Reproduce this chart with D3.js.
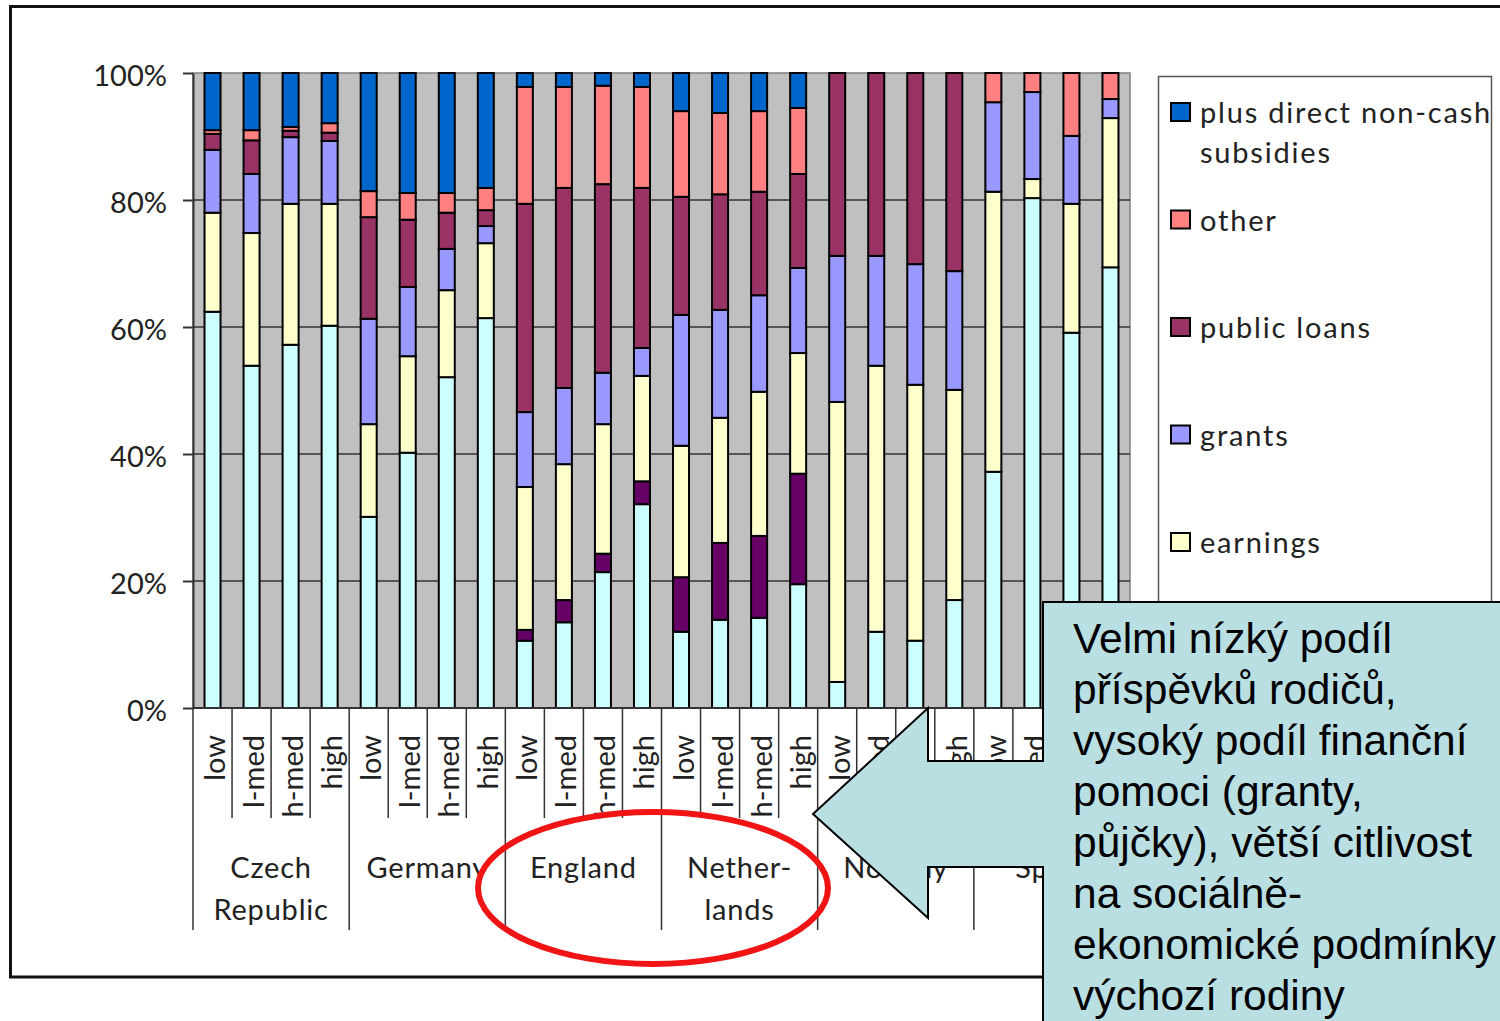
<html>
<style>
  body { margin: 0; background: #ffffff; }
  svg { display: block; }
</style>
<script src="https://d3js.org/d3.v7.min.js"></script>
<body>
<svg id="chart"></svg>
</body>
<script>
// categories
let countries = [["Czech", "Republic"], ["Germany"], ["England"], ["Nether-", "lands"], ["Norway"], ["Spain"]]
let levels = ["low", "l-med", "h-med", "high"]
let yTicks = [0, 20, 40, 60, 80, 100]

// series, bottom of the stack first (shares in %)
let seriesNames = ["parents", "private loans", "earnings", "grants", "public loans", "other", "plus direct non-cash subsidies"]
let seriesColors = ["#CCFFFF", "#660066", "#FFFFCC", "#9999FF", "#993366", "#FF8080", "#0066CC"]
// legend entries still visible above the callout box (top down)
let legendSeries = [6, 5, 4, 3, 2]

let parents      = [62.4, 53.9, 57.2, 60.2, 30.1, 40.2, 52.1, 61.4, 10.6, 13.5, 21.4, 32.1, 12.0, 13.9, 14.2, 19.5, 4.1, 12.0, 10.6, 17.0, 37.2, 80.3, 59.1, 69.4]
let privateLoans = [0, 0, 0, 0, 0, 0, 0, 0, 1.7, 3.5, 2.9, 3.6, 8.6, 12.1, 12.9, 17.4, 0, 0, 0, 0, 0, 0, 0, 0]
let earnings     = [15.6, 20.9, 22.2, 19.2, 14.6, 15.2, 13.7, 11.8, 22.5, 21.4, 20.4, 16.6, 20.7, 19.7, 22.7, 19.0, 44.1, 41.9, 40.3, 33.1, 44.1, 3.0, 20.3, 23.5]
let grants       = [9.9, 9.3, 10.5, 9.9, 16.6, 10.9, 6.5, 2.7, 11.8, 12.0, 8.1, 4.4, 20.6, 17.0, 15.2, 13.4, 23.0, 17.3, 19.0, 18.7, 14.1, 13.7, 10.7, 3.0]
let publicLoans  = [2.5, 5.3, 1.0, 1.3, 16.0, 10.6, 5.7, 2.5, 32.8, 31.5, 29.7, 25.2, 18.6, 18.2, 16.3, 14.8, 28.8, 28.8, 30.1, 31.2, 0, 0, 0, 0]
let other        = [0.6, 1.6, 0.6, 1.5, 4.1, 4.2, 3.1, 3.5, 18.4, 15.9, 15.5, 15.9, 13.5, 12.8, 12.7, 10.4, 0, 0, 0, 0, 4.6, 3.0, 9.9, 4.1]
let nonCash      = [9.0, 9.0, 8.5, 7.9, 18.6, 18.9, 18.9, 18.1, 2.2, 2.2, 2.0, 2.2, 6.0, 6.3, 6.0, 5.5, 0, 0, 0, 0, 0, 0, 0, 0]

let calloutLines = ["Velmi nízký podíl", "příspěvků rodičů,", "vysoký podíl finanční", "pomoci (granty,", "půjčky), větší citlivost", "na sociálně-", "ekonomické podmínky", "výchozí rodiny"]

let width = 1500, height = 1021
let plot = {left: 193, right: 1130, top: 73, bottom: 708}
let labelFont = "Lato, 'Open Sans', sans-serif"

function buildRows() {
  let all = [parents, privateLoans, earnings, grants, publicLoans, other, nonCash]
  let rows = []
  for (let i = 0; i < parents.length; i++) {
    let row = {index: i, level: levels[i % 4], country: Math.floor(i / 4)}
    seriesNames.forEach((name, k) => row[name] = all[k][i])
    rows.push(row)
  }
  return rows
}

function drawChart() {
  let svg = d3.select("#chart").attr("width", width).attr("height", height)
  let rows = buildRows()

  // outer frame
  svg.append("rect")
    .attr("x", 10.5).attr("y", 6.5)
    .attr("width", 1600).attr("height", 970.5)
    .attr("fill", "#ffffff").attr("stroke", "#111").attr("stroke-width", 3)

  let x = d3.scaleBand()
    .domain(d3.range(rows.length))
    .range([plot.left, plot.right])
    .paddingInner(0.59)
    .paddingOuter(0.295)
  let step = x.step()
  let y = d3.scaleLinear().domain([0, 100]).range([plot.bottom, plot.top])

  // plot area
  svg.append("rect")
    .attr("x", plot.left).attr("y", plot.top)
    .attr("width", plot.right - plot.left).attr("height", plot.bottom - plot.top)
    .attr("fill", "#C0C0C0").attr("stroke", "#808080").attr("stroke-width", 1.5)

  svg.append("g").selectAll("line")
    .data(yTicks.filter(t => t > 0 && t < 100))
    .enter().append("line")
    .attr("x1", plot.left).attr("x2", plot.right)
    .attr("y1", d => y(d)).attr("y2", d => y(d))
    .attr("stroke", "#333").attr("stroke-width", 1.5)

  // stacked bars
  let stack = d3.stack().keys(seriesNames)(rows)
  svg.append("g").selectAll("g")
    .data(stack).enter().append("g")
    .attr("fill", (d, k) => seriesColors[k])
    .selectAll("rect")
    .data(d => d.filter(s => s[1] - s[0] > 0))
    .enter().append("rect")
    .attr("x", d => x(d.data.index))
    .attr("width", x.bandwidth())
    .attr("y", d => y(d[1]))
    .attr("height", d => y(d[0]) - y(d[1]))
    .attr("stroke", "#000").attr("stroke-width", 2)

  // y axis
  let yAxis = svg.append("g")
    .attr("transform", `translate(${plot.left},0)`)
    .call(d3.axisLeft(y).tickValues(yTicks).tickFormat(d => d + "%").tickSize(10).tickSizeOuter(0).tickPadding(16))
  yAxis.select(".domain").attr("stroke", "#333").attr("stroke-width", 2)
  yAxis.selectAll(".tick line").attr("stroke", "#333").attr("stroke-width", 2)
  yAxis.selectAll("text")
    .attr("font-family", labelFont).attr("font-size", 29).attr("fill", "#222")
    .attr("dy", "0.42em")

  // x axis line
  svg.append("line")
    .attr("x1", plot.left).attr("x2", plot.right)
    .attr("y1", plot.bottom).attr("y2", plot.bottom)
    .attr("stroke", "#333").attr("stroke-width", 2)

  // category separators
  svg.append("g").selectAll("line")
    .data(d3.range(rows.length + 1))
    .enter().append("line")
    .attr("x1", i => plot.left + i * step).attr("x2", i => plot.left + i * step)
    .attr("y1", plot.bottom)
    .attr("y2", i => i % 4 == 0 ? 930 : 818)
    .attr("stroke", "#333").attr("stroke-width", 1.5)

  // level labels
  svg.append("g").selectAll("text")
    .data(rows).enter().append("text")
    .attr("transform", d => `translate(${x(d.index) + x.bandwidth() / 2 + 12.5},735) rotate(-90)`)
    .attr("text-anchor", "end")
    .attr("font-family", labelFont).attr("font-size", 29).attr("fill", "#222")
    .text(d => d.level)

  // country labels
  let cg = svg.append("g").selectAll("text")
    .data(countries).enter().append("text")
    .attr("x", (d, i) => plot.left + (i * 4 + 2) * step)
    .attr("text-anchor", "middle")
    .attr("font-family", labelFont).attr("font-size", 29).attr("fill", "#222")
    .attr("letter-spacing", 0.8)
  cg.selectAll("tspan")
    .data(d => d).enter().append("tspan")
    .attr("x", function () { return d3.select(this.parentNode).attr("x") })
    .attr("y", (d, j) => 878 + j * 42)
    .text(d => d)

  drawLegend(svg)

  // red ellipse
  svg.append("ellipse")
    .attr("cx", 653).attr("cy", 888).attr("rx", 175).attr("ry", 76)
    .attr("fill", "none").attr("stroke", "#f01414").attr("stroke-width", 6)

  drawCallout(svg)
}

function drawLegend(svg) {
  svg.append("rect")
    .attr("x", 1158.5).attr("y", 76.5).attr("width", 333).attr("height", 1000)
    .attr("fill", "#ffffff").attr("stroke", "#555").attr("stroke-width", 1.5)
  let items = svg.append("g").selectAll("g")
    .data(legendSeries).enter().append("g")
    .attr("transform", (k, i) => `translate(1171,${112 + i * 107.5})`)
  items.append("rect")
    .attr("x", 0).attr("y", -9).attr("width", 19).attr("height", 18)
    .attr("fill", k => seriesColors[k]).attr("stroke", "#000").attr("stroke-width", 2)
  let t = items.append("text")
    .attr("font-family", labelFont).attr("font-size", 29).attr("fill", "#222")
    .attr("letter-spacing", 1.8)
  t.selectAll("tspan")
    .data(k => k == 6 ? ["plus direct non-cash", "subsidies"] : [seriesNames[k]])
    .enter().append("tspan")
    .attr("x", 29).attr("y", (d, j) => 11 + j * 40)
    .text(d => d)
}

function drawCallout(svg) {
  let pts = [[1043, 602], [1520, 602], [1520, 1030], [1043, 1030], [1043, 867], [928, 867], [928, 918],
             [813, 814], [928, 708], [928, 761], [1043, 761]]
  svg.append("path")
    .attr("d", d3.line()(pts) + "Z")
    .attr("fill", "#B9DFE3").attr("stroke", "#000").attr("stroke-width", 2)
    .attr("stroke-linejoin", "miter")
  svg.append("g").selectAll("text")
    .data(calloutLines).enter().append("text")
    .attr("x", 1073).attr("y", (d, i) => 653 + i * 51)
    .attr("font-family", "'Liberation Sans', Arial, sans-serif").attr("font-size", 42.5).attr("fill", "#000")
    .text(d => d)
}

drawChart()
</script>
</html>
